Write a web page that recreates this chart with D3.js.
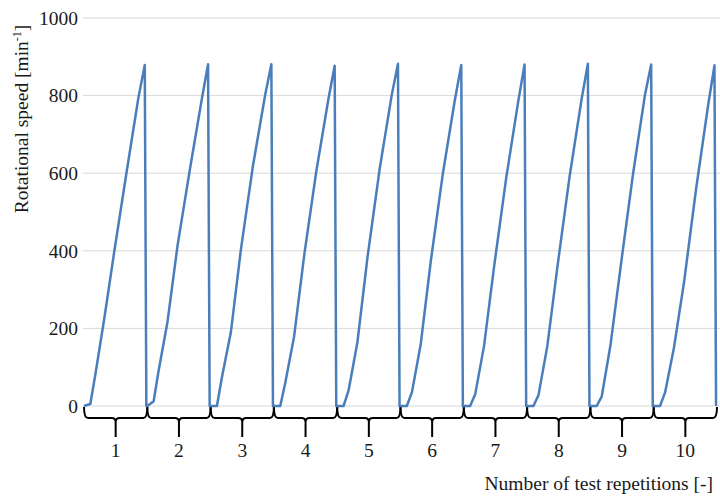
<!DOCTYPE html>
<html>
<head>
<meta charset="utf-8">
<script src="https://cdn.jsdelivr.net/npm/d3@7"></script>
<style>
  html, body { margin: 0; padding: 0; background: #fff; }
  svg { display: block; }
  svg text { font-family: "Liberation Serif", "DejaVu Serif", "Noto Serif", serif; }
</style>
</head>
<body>
<svg id="chart" width="720" height="498"></svg>
<script>
// Test repetitions shown along the x axis
const repetitions = [1, 2, 3, 4, 5, 6, 7, 8, 9, 10];
// Position inside each repetition (fraction of one repetition, from its start)
const phase = [0, 0.1, 0.18, 0.32, 0.48, 0.67, 0.86, 0.96, 0.985];
// Rotational speed [min^-1] at each phase point, one row per repetition
const runSpeeds = [
  [0, 5, 82, 225, 400, 600, 795, 879, 0],
  [0, 12, 92, 218, 416, 607, 790, 881, 0],
  [0, 0, 75, 190, 405, 620, 800, 881, 0],
  [0, 0, 60, 180, 390, 605, 790, 877, 0],
  [0, 0, 40, 165, 385, 610, 800, 882, 0],
  [0, 0, 35, 160, 375, 600, 790, 879, 0],
  [0, 0, 30, 155, 361, 588, 785, 880, 0],
  [0, 0, 28, 155, 360, 590, 790, 882, 0],
  [0, 0, 25, 160, 362, 594, 800, 880, 0],
  [0, 0, 35, 150, 320, 560, 775, 878, 0]
];
const yTicks = [0, 200, 400, 600, 800, 1000];

const serif = "Liberation Serif, DejaVu Serif, Noto Serif, serif";
const svg = d3.select("#chart");
const x = d3.scaleLinear().domain([0.5, 10.5]).range([84, 717]);
const y = d3.scaleLinear().domain([0, 1000]).range([406, 18]);

// Horizontal gridlines
svg.append("g")
  .selectAll("line")
  .data(yTicks)
  .join("line")
  .attr("x1", 83).attr("x2", 720)
  .attr("y1", d => y(d)).attr("y2", d => y(d))
  .attr("stroke", "#d9d9d9").attr("stroke-width", 1);

// Y axis labels
const yAxis = d3.axisLeft(y).tickValues(yTicks).tickSize(0).tickPadding(0).tickFormat(d3.format("d"));
svg.append("g")
  .attr("transform", "translate(78,0)")
  .call(yAxis)
  .attr("font-family", serif)
  .attr("font-size", 19.5)
  .call(g => g.select(".domain").remove())
  .selectAll("text")
  .attr("fill", "#1a1a1a");

// Braces marking each repetition
const braceY0 = y(0), braceY1 = 418, braceTip = 437, r = 4;
svg.append("g")
  .selectAll("path")
  .data(repetitions)
  .join("path")
  .attr("d", d => {
    const l = x(d - 0.5), c = x(d), rt = x(d + 0.5);
    const p = d3.path();
    p.moveTo(l, braceY0 + 1);
    p.quadraticCurveTo(l, braceY1, l + r, braceY1);
    p.lineTo(c - r, braceY1);
    p.quadraticCurveTo(c, braceY1, c, braceY1 + r);
    p.lineTo(c, braceTip);
    p.moveTo(c, braceY1 + r);
    p.quadraticCurveTo(c, braceY1, c + r, braceY1);
    p.lineTo(rt - r, braceY1);
    p.quadraticCurveTo(rt, braceY1, rt, braceY0 + 1);
    return p.toString();
  })
  .attr("fill", "none")
  .attr("stroke", "#000")
  .attr("stroke-width", 2);

// X axis labels at the centre of each brace
svg.append("g")
  .selectAll("text")
  .data(repetitions)
  .join("text")
  .attr("x", d => x(d))
  .attr("y", 457)
  .attr("text-anchor", "middle")
  .attr("font-family", serif)
  .attr("font-size", 19.5)
  .attr("fill", "#1a1a1a")
  .text(d => d);

// Speed trace
const points = [];
repetitions.forEach((rep, i) => {
  phase.forEach((ph, j) => {
    points.push([rep - 0.5 + ph, runSpeeds[i][j]]);
  });
});
const line = d3.line().x(d => x(d[0])).y(d => y(d[1]));
svg.append("path")
  .datum(points)
  .attr("d", line)
  .attr("fill", "none")
  .attr("stroke", "#4a7ebb")
  .attr("stroke-width", 2.5)
  .attr("stroke-linejoin", "round");

// Axis titles
svg.append("text")
  .attr("x", 713).attr("y", 490)
  .attr("text-anchor", "end")
  .attr("font-family", serif)
  .attr("font-size", 19.5)
  .attr("fill", "#1a1a1a")
  .text("Number of test repetitions [-]");

const yTitle = svg.append("text")
  .attr("transform", "translate(28,119) rotate(-90)")
  .attr("text-anchor", "middle")
  .attr("font-family", serif)
  .attr("font-size", 19.5)
  .attr("fill", "#1a1a1a");
yTitle.append("tspan").text("Rotational speed [min");
yTitle.append("tspan").attr("font-size", 12).attr("dy", -7).text("-1");
yTitle.append("tspan").attr("dy", 7).text("]");
</script>
</body>
</html>
